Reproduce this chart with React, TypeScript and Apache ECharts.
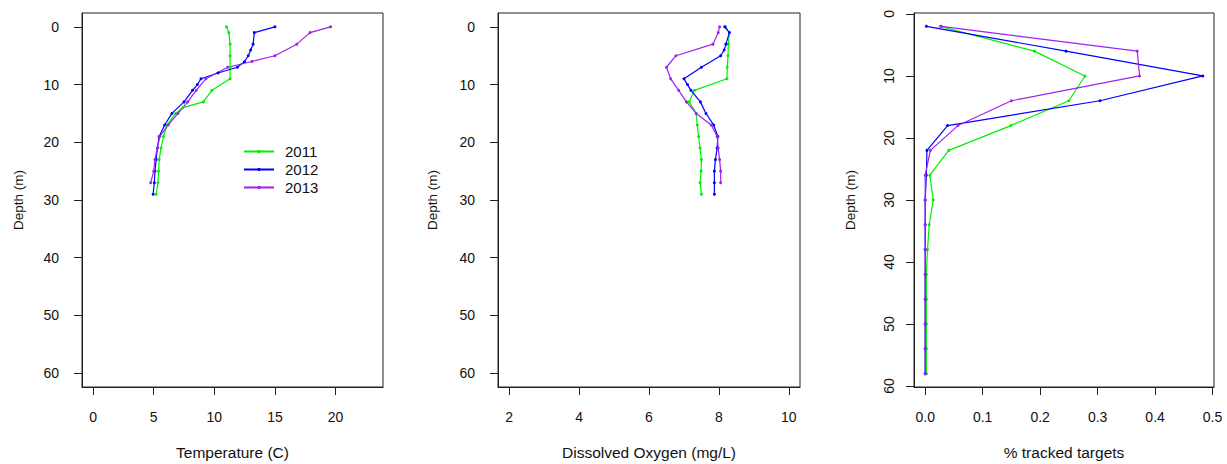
import React, { useEffect, useRef } from "react";
import * as echarts from "echarts";

const years = ["2011", "2012", "2013"];
const lineColors = ["#00ee00", "#0000ff", "#a020f0"];

// Panel 1: Temperature (C) vs depth (m)
const tempDepth2011 = [0, 1, 3, 5, 7, 9, 11, 13, 14, 15, 17, 19, 21, 23, 25, 27, 29];
const temp2011 = [11.0, 11.2, 11.3, 11.3, 11.3, 11.3, 9.8, 9.1, 7.4, 6.8, 6.1, 5.8, 5.6, 5.45, 5.4, 5.35, 5.2];
const tempDepth2012 = [0, 1, 3, 4, 5, 6, 7, 8, 9, 10, 11, 13, 15, 17, 19, 21, 23, 25, 27, 29];
const temp2012 = [15.0, 13.3, 13.2, 13.0, 12.8, 12.5, 11.9, 10.3, 8.9, 8.6, 8.2, 7.5, 6.5, 5.9, 5.45, 5.3, 5.2, 5.1, 5.05, 4.95];
const tempDepth2013 = [0, 1, 3, 5, 6, 7, 9, 11, 13, 15, 17, 19, 21, 23, 25, 27];
const temp2013 = [19.6, 17.9, 16.8, 15.0, 13.1, 11.1, 9.3, 8.5, 7.8, 7.0, 6.2, 5.5, 5.3, 5.1, 5.0, 4.75];

// Panel 2: Dissolved oxygen (mg/L) vs depth (m)
const doDepth2011 = [0, 1, 3, 5, 7, 9, 11, 13, 15, 17, 19, 21, 23, 25, 27, 29];
const do2011 = [8.15, 8.3, 8.27, 8.26, 8.24, 8.23, 7.3, 7.15, 7.35, 7.38, 7.42, 7.46, 7.5, 7.49, 7.46, 7.5];
const doDepth2012 = [0, 1, 3, 4, 5, 7, 9, 10, 11, 13, 15, 17, 19, 21, 23, 25, 27, 29];
const do2012 = [8.18, 8.3, 8.2, 8.15, 8.05, 7.5, 7.0, 7.1, 7.2, 7.47, 7.63, 7.85, 7.97, 7.95, 7.9, 7.87, 7.87, 7.87];
const doDepth2013 = [0, 1, 3, 5, 7, 9, 11, 13, 15, 17, 19, 21, 23, 25, 27];
const do2013 = [8.02, 7.98, 7.83, 6.77, 6.5, 6.62, 6.85, 7.07, 7.35, 7.78, 7.95, 7.98, 8.02, 8.05, 8.05];

// Panel 3: % tracked targets vs depth bin (m)
const targetDepths = [2, 6, 10, 14, 18, 22, 26, 30, 34, 38, 42, 46, 50, 54, 58];
const targets2011 = [0.026, 0.19, 0.278, 0.25, 0.149, 0.041, 0.008, 0.014, 0.007, 0.004, 0.002, 0.002, 0.002, 0.002, 0.002];
const targets2012 = [0.002, 0.245, 0.483, 0.304, 0.039, 0.003, 0.002, 0, 0, 0, 0, 0, 0, 0, 0];
const targets2013 = [0.028, 0.369, 0.373, 0.15, 0.057, 0.009, 0, 0, 0, 0, 0, 0, 0, 0, 0];

const tempTicks = [0, 5, 10, 15, 20];
const doTicks = [2, 4, 6, 8, 10];
const targetTicks = [0, 0.1, 0.2, 0.3, 0.4, 0.5];
const depthTicks = [0, 10, 20, 30, 40, 50, 60];

const FONT = "'Liberation Sans', Arial, sans-serif";
const INK = "#111";

const pairs = (xs: number[], ds: number[]) => ds.map((d, i) => [xs[i], d]);

function xAxisFor(gridIndex: number, min: number, max: number, ticks: number[], name: string, fmt?: (v: number) => string) {
  return {
    type: "value",
    gridIndex,
    min,
    max,
    name,
    nameLocation: "middle",
    nameGap: 57,
    nameTextStyle: { fontFamily: FONT, fontSize: 15.5, color: INK },
    axisLine: { show: true, onZero: false, lineStyle: { color: "#222", width: 1 } },
    axisTick: { show: true, length: 8, customValues: ticks, lineStyle: { color: "#222", width: 1 } },
    axisLabel: {
      show: true,
      customValues: ticks,
      margin: 23,
      fontFamily: FONT,
      fontSize: 14,
      color: INK,
      formatter: fmt ? (v: number) => fmt(v) : (v: number) => String(v),
    },
    splitLine: { show: false },
  };
}

function yAxisFor(gridIndex: number, min: number, max: number, rotated: boolean, nameGap: number) {
  const label: any = {
    show: true,
    customValues: depthTicks,
    margin: 23,
    fontFamily: FONT,
    fontSize: 14,
    color: INK,
  };
  if (rotated) {
    label.rotate = 90;
    label.align = "center";
    label.verticalAlign = "bottom";
    label.margin = 18;
  }
  return {
    type: "value",
    gridIndex,
    inverse: true,
    min,
    max,
    name: "Depth (m)",
    nameLocation: "middle",
    nameGap,
    nameTextStyle: { fontFamily: FONT, fontSize: 13.5, color: INK },
    axisLine: { show: true, onZero: false, lineStyle: { color: "#222", width: 1 } },
    axisTick: { show: true, length: 8, customValues: depthTicks, lineStyle: { color: "#222", width: 1 } },
    axisLabel: label,
    splitLine: { show: false },
  };
}

function lineSeries(name: string, color: string, axis: number, data: number[][]) {
  return {
    type: "line",
    name,
    xAxisIndex: axis,
    yAxisIndex: axis,
    data,
    symbol: "circle",
    symbolSize: 3,
    showSymbol: true,
    lineStyle: { color, width: 1.2 },
    itemStyle: { color },
    emphasis: { disabled: true },
  };
}

export default function App() {
  const ref = useRef<HTMLDivElement>(null);

  useEffect(() => {
    if (!ref.current) return;
    const chart = echarts.init(ref.current, undefined, { renderer: "svg" });
    const gridBase = { show: true, borderColor: "#222", borderWidth: 1, backgroundColor: "transparent", top: 13, height: 374, containLabel: false, outerBoundsMode: "none" };
    chart.setOption({
      animation: false,
      backgroundColor: "#fff",
      textStyle: { fontFamily: FONT },
      grid: [
        { ...gridBase, left: 82, width: 301 },
        { ...gridBase, left: 498, width: 302 },
        { ...gridBase, left: 914, width: 300 },
      ],
      xAxis: [
        xAxisFor(0, -0.92, 23.92, tempTicks, "Temperature (C)"),
        xAxisFor(1, 1.68, 10.32, doTicks, "Dissolved Oxygen (mg/L)"),
        xAxisFor(2, -0.0195, 0.5025, targetTicks, "% tracked targets", (v) => v.toFixed(1)),
      ],
      yAxis: [
        yAxisFor(0, -2.4, 62.4, false, 57),
        yAxisFor(1, -2.4, 62.4, false, 59),
        yAxisFor(2, -0.15, 60.15, true, 57),
      ],
      legend: {
        show: true,
        data: years,
        orient: "vertical",
        left: 238,
        top: 139,
        padding: 5,
        itemWidth: 30,
        itemHeight: 4,
        itemGap: 3,
        selectedMode: false,
        textStyle: { fontFamily: FONT, fontSize: 15, color: INK, padding: [0, 0, 0, 6] },
      },
      series: [
        lineSeries(years[0], lineColors[0], 0, pairs(temp2011, tempDepth2011)),
        lineSeries(years[1], lineColors[1], 0, pairs(temp2012, tempDepth2012)),
        lineSeries(years[2], lineColors[2], 0, pairs(temp2013, tempDepth2013)),
        lineSeries(years[0], lineColors[0], 1, pairs(do2011, doDepth2011)),
        lineSeries(years[1], lineColors[1], 1, pairs(do2012, doDepth2012)),
        lineSeries(years[2], lineColors[2], 1, pairs(do2013, doDepth2013)),
        lineSeries(years[0], lineColors[0], 2, pairs(targets2011, targetDepths)),
        lineSeries(years[1], lineColors[1], 2, pairs(targets2012, targetDepths)),
        lineSeries(years[2], lineColors[2], 2, pairs(targets2013, targetDepths)),
      ],
    });
    return () => chart.dispose();
  }, []);

  return <div ref={ref} style={{ position: "fixed", left: 0, top: 0, width: 1227, height: 464 }} />;
}
